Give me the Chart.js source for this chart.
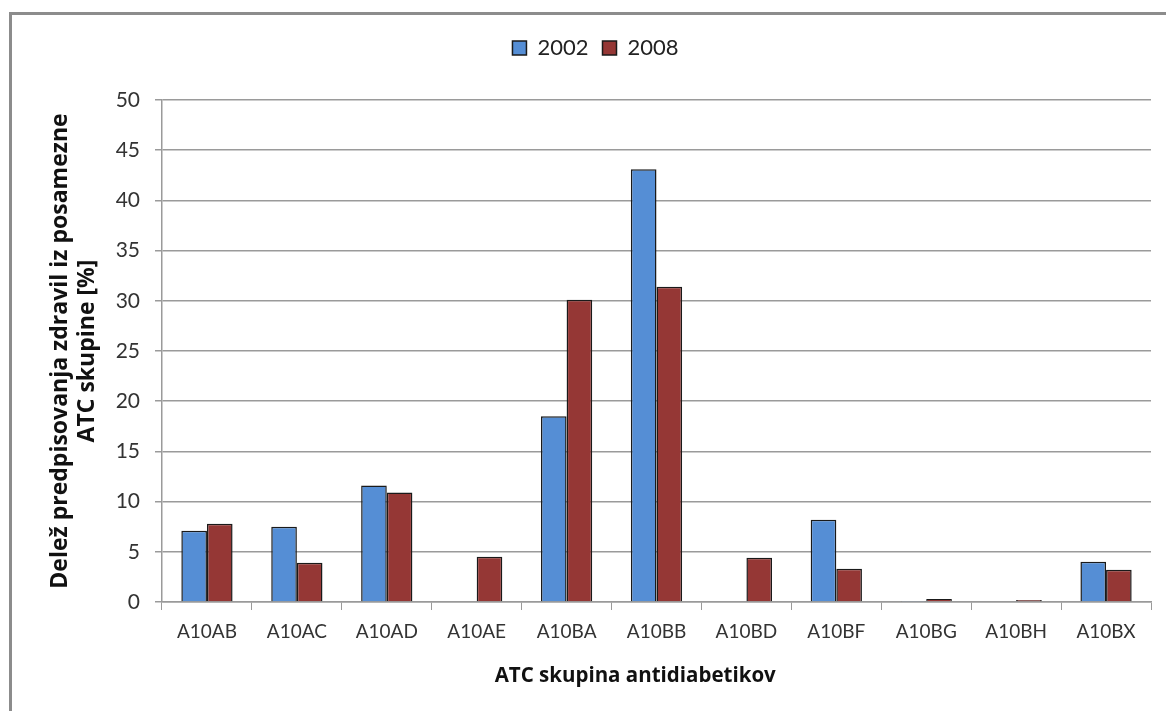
<!DOCTYPE html>
<html>
<head>
<meta charset="utf-8">
<script src="https://cdn.jsdelivr.net/npm/chart.js@4"></script>
<style>
  html, body { margin: 0; padding: 0; background: #fff; }
  #wrap { width: 1166px; height: 711px; }
</style>
</head>
<body>
<div id="wrap"><canvas id="atcChart" width="1166" height="711"></canvas></div>
<script>
const categories = ['A10AB', 'A10AC', 'A10AD', 'A10AE', 'A10BA', 'A10BB', 'A10BD', 'A10BF', 'A10BG', 'A10BH', 'A10BX'];
const share2002 = [7.1, 7.5, 11.6, 0, 18.5, 43.1, 0, 8.2, 0.1, 0, 4.0];
const share2008 = [7.8, 3.9, 10.9, 4.5, 30.1, 31.4, 4.4, 3.3, 0.3, 0.2, 3.2];
const yTicks = [0, 5, 10, 15, 20, 25, 30, 35, 40, 45, 50];

const FONT = 'Lato, "Liberation Sans", sans-serif';
const TITLE_FONT = '"Open Sans", "Liberation Sans", sans-serif';
const GRID = '#9a9a9a';

// grey outer frame of the chart object
const framePlugin = {
  id: 'frame',
  beforeDraw(chart) {
    const c = chart.ctx;
    c.save();
    c.fillStyle = '#fff';
    c.fillRect(0, 0, chart.width, chart.height);
    c.strokeStyle = '#8c8c8c';
    c.lineWidth = 3;
    c.strokeRect(10.5, 13.5, chart.width + 40, chart.height + 40);
    c.restore();
  }
};

// extra space between legend and plot area
const legendGap = {
  id: 'legendGap',
  beforeInit(chart) {
    const origFit = chart.legend.fit;
    chart.legend.fit = function fit() {
      origFit.bind(chart.legend)();
      this.height += 31;
    };
  }
};

const ctx = document.getElementById('atcChart').getContext('2d');

new Chart(ctx, {
  type: 'bar',
  data: {
    labels: categories,
    datasets: [{
      label: '2002',
      data: share2002,
      backgroundColor: '#558ed5',
      borderColor: '#1a1a1a',
      borderWidth: 1.5
    }, {
      label: '2008',
      data: share2008,
      backgroundColor: '#953735',
      borderColor: '#1a1a1a',
      borderWidth: 1.5
    }]
  },
  options: {
    responsive: false,
    animation: false,
    devicePixelRatio: 1,
    categoryPercentage: 0.57,
    barPercentage: 1.0,
    layout: {
      padding: { left: 40, right: 15, top: 23, bottom: 0 }
    },
    plugins: {
      legend: {
        position: 'top',
        labels: {
          boxWidth: 14,
          boxHeight: 14,
          padding: 14,
          color: '#222',
          font: { family: FONT, size: 22 }
        }
      },
      tooltip: { enabled: false }
    },
    scales: {
      x: {
        grid: {
          display: true,
          drawOnChartArea: false,
          drawTicks: true,
          tickLength: 8,
          color: GRID
        },
        border: { display: true, color: GRID, width: 1.5 },
        ticks: {
          color: '#333',
          padding: 10,
          font: { family: FONT, size: 19 }
        },
        title: {
          display: true,
          // trailing spaces pull the centred title a little to the left
          text: 'ATC skupina antidiabetikov        ',
          color: '#111',
          padding: { top: 0, bottom: 23 },
          font: { family: TITLE_FONT, size: 20.5, weight: 'bold' }
        },
        afterFit(scale) { scale.height = 109; }
      },
      y: {
        min: 0,
        max: 50,
        afterBuildTicks(scale) {
          scale.ticks = yTicks.map(v => ({ value: v }));
        },
        grid: {
          color: GRID,
          lineWidth: 1.5,
          tickLength: 7
        },
        border: { display: true, color: GRID, width: 1.5 },
        ticks: {
          color: '#333',
          padding: 15,
          font: { family: FONT, size: 21 }
        },
        title: {
          display: true,
          text: ['Delež predpisovanja zdravil iz posamezne', 'ATC skupine [%]'],
          color: '#111',
          padding: { top: 7, bottom: 0 },
          font: { family: TITLE_FONT, size: 23, weight: 'bold', lineHeight: '27px' }
        },
        afterFit(scale) { scale.width = 122; }
      }
    }
  },
  plugins: [framePlugin, legendGap]
});
</script>
</body>
</html>
